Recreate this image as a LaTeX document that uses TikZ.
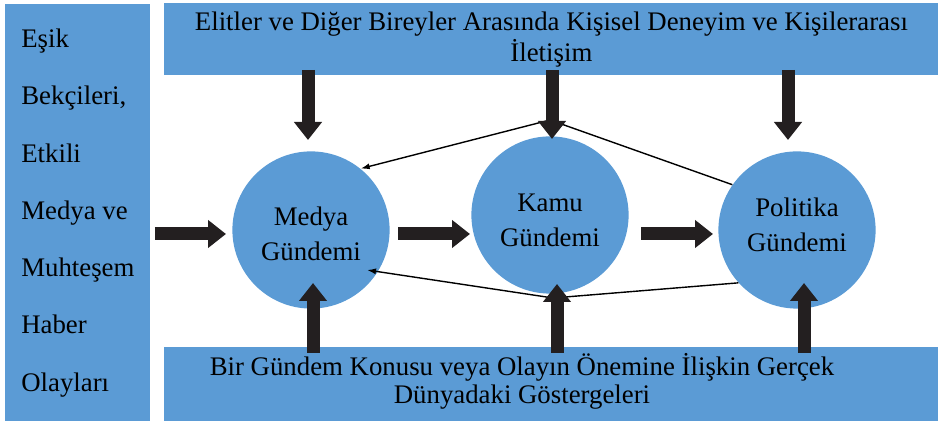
\documentclass[tikz,border=0pt]{standalone}
\usepackage{fontspec}
\setmainfont{Liberation Serif}
\usetikzlibrary{arrows.meta,calc}

\definecolor{boxblue}{RGB}{91,155,213}
\definecolor{arrowblack}{RGB}{35,31,32}

\tikzset{
  panel/.style={fill=boxblue, draw=none, inner sep=0pt, anchor=north west},
  agenda/.style={circle, fill=boxblue, minimum size=78.6pt, inner sep=0pt,
    align=center, text depth=0pt, font=\fontsize{13.4pt}{17.5pt}\selectfont},
  bigarrow/.style={arrowblack, line width=6.5pt,
    -{Triangle[length=9pt,width=13.5pt]}},
  thinarrow/.style={black, line width=0.7pt, -{Latex[length=4.5pt,width=3pt]}},
}

\begin{document}
\begin{tikzpicture}[x=0.5pt,y=-0.5pt]
\useasboundingbox (0,0) rectangle (938,421);

% side panel
\node[panel, minimum width=72.5pt, minimum height=208.5pt, align=left,
  font=\fontsize{13.4pt}{28.65pt}\selectfont] (gate) at (5,4)
  {Eşik\\Bekçileri,\\Etkili\\Medya ve\\Muhteşem\\Haber\\Olayları};

% top and bottom panels
\node[panel, minimum width=387pt, minimum height=36pt, align=center,
  font=\fontsize{13.4pt}{15.35pt}\selectfont] (elite) at (164,3)
  {Elitler ve Diğer Bireyler Arasında Kişisel Deneyim ve Kişilerarası\\İletişim};
\node[panel, minimum width=387pt, minimum height=37.5pt] (real) at (164,347) {};
\node[align=center, inner sep=0pt, font=\fontsize{13.4pt}{14pt}\selectfont]
  (realtxt) at (522,381)
  {Bir Gündem Konusu veya Olayın Önemine İlişkin Gerçek\\Dünyadaki Göstergeleri};

% agendas
\node[agenda, text height=31pt] (medya) at (311,230) {Medya\\Gündemi};
\node[agenda, text height=31.7pt] (kamu) at (550,215) {Kamu\\Gündemi};
\node[agenda, text height=21.7pt] (politika) at (797,230) {Politika\\Gündemi};

% feedback lines
\coordinate (upjoin) at ($(kamu.north)+(0,8pt)$);
\coordinate (lowjoin) at ($(kamu.south)+(1.5pt,-2pt)$);
\draw[thinarrow] (politika.145) -- (upjoin) -- (medya.51);
\draw[thinarrow] (politika.222) -- (lowjoin) -- ($(medya.center)+(28pt,-20pt)$);

% from the top panel
\draw[bigarrow] ($(elite.south -| medya.north)+(-1.5pt,3pt)$) -- ($(medya.north)+(-1.5pt,5.5pt)$);
\draw[bigarrow] ($(elite.south -| kamu.north)+(1pt,3pt)$) -- ($(kamu.north)+(1pt,-1.5pt)$);
\draw[bigarrow] ($(elite.south -| politika.north)+(-4.5pt,3pt)$) -- ($(politika.north)+(-4.5pt,5.5pt)$);

% from the bottom panel
\draw[bigarrow] ($(real.north -| medya.south)+(1pt,-3pt)$) -- ($(medya.south)+(1pt,13pt)$);
\draw[bigarrow] ($(real.north -| kamu.south)+(3.5pt,-3pt)$) -- ($(kamu.south)+(3.5pt,5pt)$);
\draw[bigarrow] ($(real.north -| politika.south)+(3.5pt,-3pt)$) -- ($(politika.south)+(3.5pt,13pt)$);

% left to right
\draw[bigarrow] ($(gate.east |- medya.west)+(2pt,-2pt)$) -- ($(medya.west)+(-3pt,-2pt)$);
\draw[bigarrow] ($(medya.east)+(4pt,-2pt)$) -- ($(kamu.west |- medya.east)+(-0.5pt,-2pt)$);
\draw[bigarrow] ($(kamu.east |- politika.west)+(6pt,-2pt)$) -- ($(politika.west)+(-2.5pt,-2pt)$);
\end{tikzpicture}
\end{document}
